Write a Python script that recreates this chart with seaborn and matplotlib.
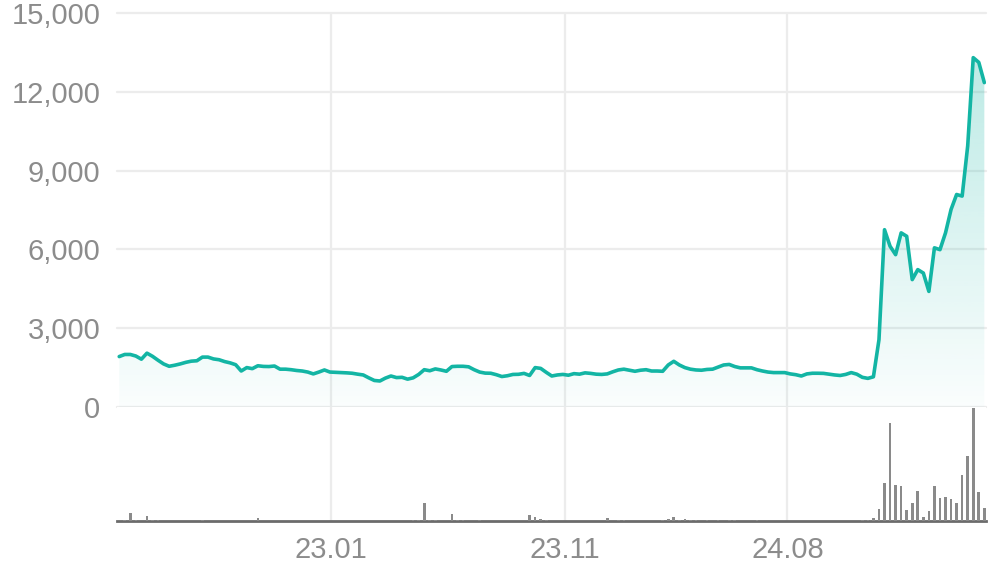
import numpy as np
import matplotlib
matplotlib.use("Agg")
import matplotlib.pyplot as plt
import seaborn as sns
from matplotlib.colors import LinearSegmentedColormap, to_rgba
from matplotlib.ticker import FuncFormatter

# ------------------------
# Data (weekly points)
# ------------------------
price = [
    1920, 2000, 2000, 1940, 1820, 2050, 1930, 1780, 1640, 1550,
    1590, 1640, 1700, 1745, 1760, 1900, 1900, 1830, 1800, 1730,
    1680, 1610, 1370, 1500, 1460, 1570, 1545, 1540, 1560, 1440,
    1440, 1420, 1390, 1370, 1330, 1260, 1330, 1410, 1330, 1320,
    1310, 1300, 1285, 1250, 1220, 1110, 1010, 990, 1100, 1180,
    1120, 1130, 1060, 1110, 1240, 1420, 1380, 1450, 1410, 1360,
    1540, 1550, 1550, 1530, 1420, 1330, 1290, 1285, 1230, 1160,
    1190, 1240, 1245, 1280, 1200, 1500, 1470, 1320, 1180, 1220,
    1240, 1210, 1270, 1250, 1300, 1280, 1250, 1240, 1260, 1340,
    1410, 1440, 1400, 1360, 1400, 1420, 1370, 1370, 1360, 1600,
    1740, 1600, 1500, 1440, 1410, 1400, 1430, 1440, 1520, 1600,
    1620, 1540, 1490, 1490, 1490, 1420, 1370, 1330, 1310, 1310,
    1310, 1260, 1230, 1180, 1260, 1285, 1285, 1280, 1250, 1220,
    1200, 1240, 1310, 1250, 1130, 1090, 1150, 2560, 6750, 6120,
    5800, 6630, 6500, 4850, 5230, 5100, 4400, 6060, 5990, 6630,
    7520, 8090, 8030, 9940, 13300, 13120, 12350,
]

volume = [
    0, 1, 8, 1, 0, 5, 1, 1, 0, 0,
    0, 0, 0, 0, 0, 1, 0, 0, 0, 0,
    0, 0, 0, 0, 0, 3, 0, 0, 0, 0,
    0, 0, 0, 0, 0, 0, 0, 0, 0, 0,
    0, 0, 0, 0, 0, 0, 0, 0, 0, 0,
    0, 0, 0, 1, 1, 18, 1, 1, 0, 0,
    7, 1, 1, 0, 0, 1, 0, 0, 0, 0,
    0, 0, 0, 0, 6, 4, 2, 1, 0, 0,
    0, 0, 0, 0, 0, 0, 0, 0, 2.7, 0,
    1, 1, 0, 0, 0, 0, 0, 0, 1, 2,
    4, 1, 2, 1, 1, 0, 1, 0, 1, 0,
    1, 1, 0, 0, 0, 1, 0, 0, 0, 0,
    0, 0, 0, 0, 0, 0, 0, 0, 0, 0,
    0, 0, 0, 0, 1, 1, 2.7, 12, 38, 98,
    36, 35, 11, 18, 30, 4, 10, 35, 23, 24,
    22, 18, 46, 65, 113, 29, 13,
]

tick_pos = [38.2, 80.3, 120.5]
tick_labels = ["23.01", "23.11", "24.08"]
y_ticks = [0, 3000, 6000, 9000, 12000, 15000]

weeks = np.arange(len(price))

# ------------------------
# Style
# ------------------------
teal = "#13b5a4"
grid_c = "#ececec"
text_c = "#8c8c8c"

sns.set_theme(style="white")
plt.rcParams["font.family"] = ["Liberation Sans", "DejaVu Sans"]

W, H = 996, 567
fig = plt.figure(figsize=(W / 100, H / 100), dpi=100)
left, right = 117, 986
ax = fig.add_axes([left / W, 1 - 407 / H, (right - left) / W, (407 - 13) / H])
axv = fig.add_axes([left / W, 1 - 521 / H, (right - left) / W, (521 - 407) / H])

# ------------------------
# Price line with gradient fill
# ------------------------
poly = ax.fill_between(weeks, price, 0, color="none", lw=0)
cmap = LinearSegmentedColormap.from_list("fade", [to_rgba(teal, 0.02), to_rgba(teal, 0.28)])
grad = np.linspace(0, 1, 256).reshape(-1, 1)
im = ax.imshow(grad, cmap=cmap, aspect="auto", origin="lower",
               extent=[weeks[0], weeks[-1], 0, max(price)], zorder=1)
im.set_clip_path(poly.get_paths()[0], transform=ax.transData)

sns.lineplot(x=weeks, y=price, ax=ax, color=teal, linewidth=2.6, zorder=3)
ax.lines[-1].set_solid_joinstyle("round")

ax.set_xlim(-0.4, 156.3)
ax.set_ylim(0, 15000)
ax.set_yticks(y_ticks)
ax.yaxis.set_major_formatter(FuncFormatter(lambda v, p: f"{int(v):,}"))
ax.set_xticks(tick_pos)
ax.tick_params(axis="x", length=0, labelbottom=False)
ax.tick_params(axis="y", length=0, labelsize=21, labelcolor=text_c, pad=12)
ax.grid(True, color=grid_c, linewidth=1.6, zorder=0)
for g in ax.get_ygridlines():
    g.set_clip_on(False)
for s in ax.spines.values():
    s.set_visible(False)
ax.set_xlabel("")
ax.set_ylabel("")

# ------------------------
# Volume bars (categorical positions 0..N-1 match the week index)
# ------------------------
sns.barplot(x=weeks, y=volume, ax=axv, width=0.48, color="#8a8a8a",
            saturation=1, errorbar=None, linewidth=0, zorder=3)
axv.set_ylim(0, 114)
axv.set_yticks([])
axv.set_xlim(-0.4, 156.3)
axv.set_xticks(tick_pos)
axv.set_xticklabels(tick_labels)
axv.tick_params(axis="x", length=8, width=2, color="#6b6b6b",
                labelsize=21, labelcolor=text_c, pad=3)
axv.xaxis.grid(True, color=grid_c, linewidth=1.6, zorder=0)
for name, s in axv.spines.items():
    s.set_visible(name == "bottom")
axv.spines["bottom"].set_color("#6b6b6b")
axv.spines["bottom"].set_linewidth(2)
axv.set_xlabel("")
axv.set_ylabel("")

fig.savefig("out.png", dpi=100)
